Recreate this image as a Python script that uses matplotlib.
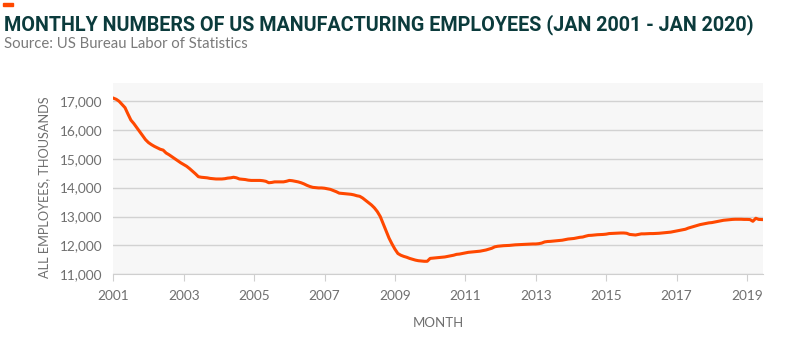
import numpy as np
import matplotlib.pyplot as plt
from matplotlib.ticker import FuncFormatter

# monthly values (thousands), Jan 2001 - Jun 2019
y2001 = [17100, 17060, 16990, 16880, 16770, 16550, 16340, 16220, 16080, 15940, 15800, 15660]
y2002 = [15560, 15490, 15430, 15380, 15330, 15300, 15200, 15140, 15070, 15000, 14930, 14860]
y2003 = [14800, 14740, 14660, 14570, 14480, 14380, 14360, 14350, 14340, 14320, 14310, 14300]
y2004 = [14300, 14300, 14310, 14330, 14340, 14360, 14340, 14300, 14290, 14280, 14260, 14250]
y2005 = [14250, 14250, 14250, 14240, 14220, 14170, 14180, 14200, 14200, 14200, 14200, 14220]
y2006 = [14250, 14240, 14220, 14200, 14170, 14130, 14080, 14040, 14010, 14000, 13990, 13990]
y2007 = [13980, 13960, 13940, 13900, 13860, 13810, 13800, 13790, 13780, 13770, 13750, 13720]
y2008 = [13700, 13640, 13560, 13480, 13400, 13300, 13170, 13000, 12750, 12500, 12250, 12050]
y2009 = [11870, 11720, 11660, 11620, 11590, 11550, 11520, 11490, 11470, 11460, 11450, 11450]
y2010 = [11550, 11560, 11570, 11580, 11590, 11600, 11620, 11640, 11660, 11690, 11700, 11720]
y2011 = [11740, 11760, 11770, 11780, 11790, 11800, 11820, 11840, 11870, 11900, 11950, 11970]
y2012 = [11980, 11990, 11995, 12000, 12010, 12020, 12025, 12030, 12035, 12040, 12045, 12050]
y2013 = [12050, 12060, 12080, 12120, 12135, 12140, 12150, 12160, 12170, 12180, 12200, 12220]
y2014 = [12230, 12240, 12260, 12280, 12290, 12320, 12345, 12350, 12360, 12370, 12375, 12380]
y2015 = [12390, 12410, 12415, 12420, 12425, 12430, 12430, 12420, 12380, 12370, 12360, 12380]
y2016 = [12400, 12400, 12405, 12410, 12410, 12415, 12420, 12430, 12440, 12450, 12460, 12480]
y2017 = [12500, 12520, 12540, 12560, 12600, 12630, 12660, 12690, 12720, 12740, 12760, 12780]
y2018 = [12790, 12810, 12830, 12850, 12870, 12880, 12890, 12900, 12905, 12905, 12905, 12900]
y2019 = [12900, 12895, 12835, 12940, 12900, 12895]

employees = (y2001 + y2002 + y2003 + y2004 + y2005 + y2006 + y2007 + y2008 + y2009 +
             y2010 + y2011 + y2012 + y2013 + y2014 + y2015 + y2016 + y2017 + y2018 + y2019)
months = 2001 + np.arange(len(employees)) / 12

xticks = [2001, 2003, 2005, 2007, 2009, 2011, 2013, 2015, 2017, 2019]
yticks = [11000, 12000, 13000, 14000, 15000, 16000, 17000]

orange = '#ff4800'
teal = '#0b3b3c'
grey = '#6f6f6f'

fig = plt.figure(figsize=(8, 3.42), dpi=100)
ax = fig.add_axes([0.1416, 0.198, 0.954 - 0.1416, 0.757 - 0.198])

ax.set_facecolor('#f7f7f7')
ax.plot(months, employees, color=orange, lw=2.2, solid_joinstyle='round')

ax.set_xlim(2001, 2019.46)
ax.set_ylim(11000, 17620)
ax.set_xticks(xticks)
ax.set_yticks(yticks)
ax.yaxis.set_major_formatter(FuncFormatter(lambda v, p: f'{int(v):,}'))
ax.grid(axis='y', color='#d2d2d2', lw=1)
ax.set_axisbelow(True)
for s in ['top', 'right', 'left']:
    ax.spines[s].set_visible(False)
ax.spines['bottom'].set_color('#cfcfcf')
ax.tick_params(axis='x', length=5, color='#cfcfcf', labelsize=9.8, labelcolor=grey, pad=6)
ax.tick_params(axis='y', length=0, labelsize=9.8, labelcolor=grey, pad=8)
for lab in ax.get_xticklabels() + ax.get_yticklabels():
    lab.set_family('Lato')

ax.set_xlabel('MONTH', family='Lato', fontsize=9.5, color=grey, labelpad=11)
fig.text(0.055, 1 - 187 / 342, 'ALL EMPLOYEES, THOUSANDS', rotation=90, family='Lato',
         fontsize=9.2, color=grey, ha='center', va='center')

# header
fig.patches.append(plt.Rectangle((3 / 800, 1 - 6 / 342), 10 / 800, 3 / 342,
                                 transform=fig.transFigure, color=orange))
title = fig.text(4 / 800, 1 - 24.5 / 342,
                 'MONTHLY NUMBERS OF US MANUFACTURING EMPLOYEES (JAN 2001 - JAN 2020)',
                 family='Roboto', weight='bold', fontsize=15, color=teal, va='center')
fig.text(4 / 800, 1 - 44 / 342, 'Source: US Bureau Labor of Statistics',
         family='Lato', fontsize=10.7, color='#7a7a7a', va='center')

# shrink the title so it spans the same width as in the reference
r = fig.canvas.get_renderer()
w = title.get_window_extent(r).width
title.set_fontsize(15 * 752 / w)

fig.savefig('out.png', dpi=100)
